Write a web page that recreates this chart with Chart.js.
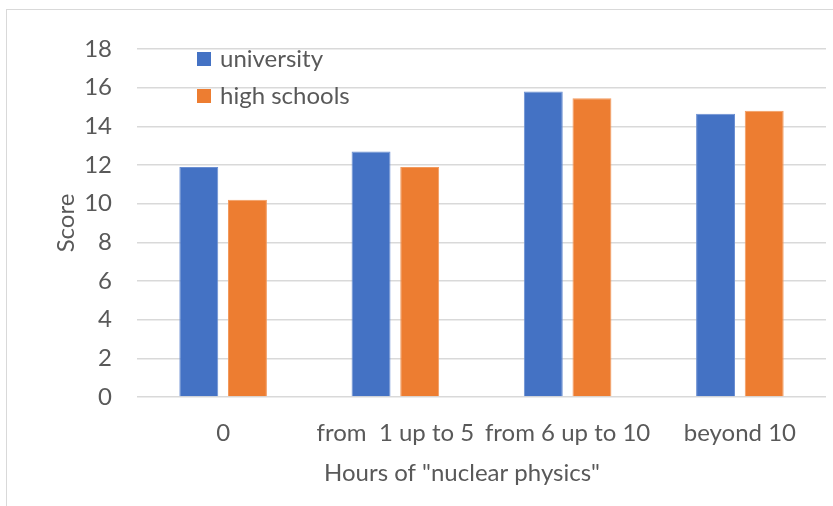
<!DOCTYPE html>
<html>
<head>
<meta charset="utf-8">
<script src="https://cdn.jsdelivr.net/npm/chart.js@4/dist/chart.umd.min.js"></script>
<style>
  html, body { margin: 0; padding: 0; background: #ffffff; overflow: hidden; }
  #wrap { position: relative; width: 833px; height: 506px; }
  #frame { position: absolute; left: 6px; top: 9px; width: 900px; height: 600px;
           border: 1px solid #d9d9d9; box-sizing: border-box; }
  #c { position: absolute; left: 0; top: 0; }
</style>
</head>
<body>
<div id="wrap">
  <div id="frame"></div>
  <canvas id="c" width="833" height="506"></canvas>
</div>
<script>
// Hours-of-study groups and average scores
const categories = ["0", "from  1 up to 5", "from 6 up to 10", "beyond 10"];
const universityScores = [11.9, 12.7, 15.8, 14.65];
const highSchoolScores = [10.2, 11.9, 15.45, 14.8];
const yTicks = [0, 2, 4, 6, 8, 10, 12, 14, 16, 18];
const seriesNames = ["university", "high schools"];
const xAxisTitle = 'Hours of "nuclear physics"';

const FONT = "Lato, 'Open Sans', sans-serif";
const TEXT = "#595959";

// Legend drawn as a vertical list inside the plot area
const innerLegend = {
  id: "innerLegend",
  afterDraw(chart) {
    const ctx = chart.ctx;
    const x = 197, y0 = 52, step = 37, box = 14;
    ctx.save();
    ctx.font = "24px " + FONT;
    ctx.textBaseline = "middle";
    ctx.textAlign = "left";
    chart.data.datasets.forEach((ds, i) => {
      const y = y0 + i * step;
      ctx.fillStyle = ds.backgroundColor;
      ctx.fillRect(x, y, box, box);
      ctx.fillStyle = TEXT;
      ctx.fillText(ds.label, x + 23, y + box / 2);
    });
    ctx.restore();
  }
};

// Category axis title, centred under the whole chart body
const xTitle = {
  id: "xTitle",
  afterDraw(chart) {
    const ctx = chart.ctx;
    ctx.save();
    ctx.font = "24px " + FONT;
    ctx.fillStyle = TEXT;
    ctx.textAlign = "center";
    ctx.textBaseline = "middle";
    ctx.fillText(xAxisTitle, 462, 473);
    ctx.restore();
  }
};

new Chart(document.getElementById("c"), {
  type: "bar",
  data: {
    labels: categories,
    datasets: [
      { label: seriesNames[0], data: universityScores, backgroundColor: "#4472C4",
        borderColor: "#6b8fd2", borderWidth: 1 },
      { label: seriesNames[1], data: highSchoolScores, backgroundColor: "#ED7D31",
        borderColor: "#f29a5e", borderWidth: 1 }
    ]
  },
  options: {
    responsive: false,
    animation: false,
    devicePixelRatio: 1,
    layout: { padding: { top: 49, right: 7, left: 0, bottom: 0 } },
    datasets: { bar: { categoryPercentage: 0.565, barPercentage: 0.8 } },
    plugins: { legend: { display: false }, tooltip: { enabled: false } },
    scales: {
      x: {
        grid: { display: false },
        border: { display: false },
        ticks: { color: TEXT, font: { family: FONT, size: 24 }, padding: 14,
                 maxRotation: 0, autoSkip: false },
        afterFit(scale) { scale.height = 109; }
      },
      y: {
        min: 0, max: 18,
        afterBuildTicks(scale) { scale.ticks = yTicks.map(v => ({ value: v })); },
        grid: { color: "#d9d9d9", lineWidth: 1.5, drawTicks: false },
        border: { display: false },
        ticks: { color: TEXT, font: { family: FONT, size: 24 }, padding: 25 },
        title: { display: true, text: "Score", color: TEXT,
                 font: { family: FONT, size: 24 }, padding: { top: 52, bottom: 0 } },
        afterFit(scale) { scale.width = 137; }
      }
    }
  },
  plugins: [innerLegend, xTitle]
});
</script>
</body>
</html>
